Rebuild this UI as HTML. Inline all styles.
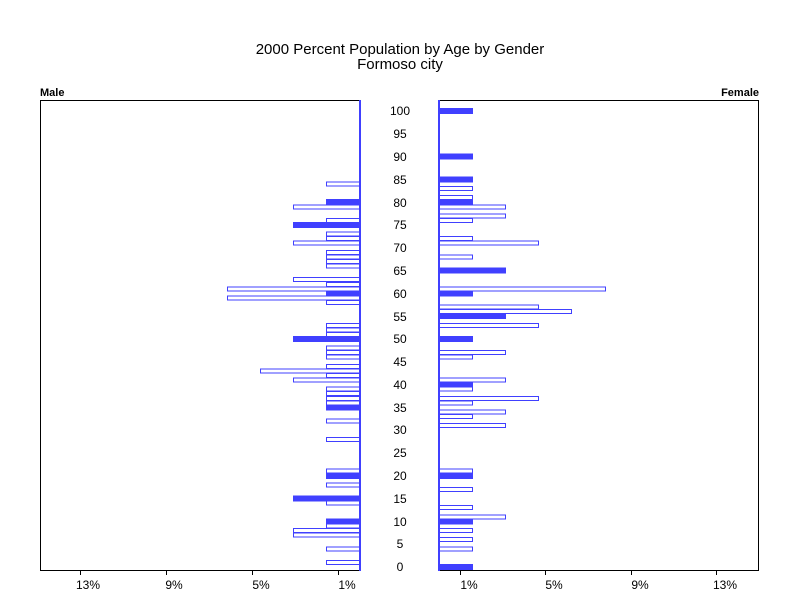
<!DOCTYPE html>
<html><head><meta charset="utf-8"><style>
body{margin:0;background:#fff}
svg{display:block}
text{font-family:"Liberation Sans",sans-serif;fill:#000}
rect,line{shape-rendering:crispEdges}
.o{fill:#fff;stroke:#4040ff;stroke-width:1}
.f{fill:#4040ff}
</style></head><body>
<svg width="800" height="600" viewBox="0 0 800 600" xmlns="http://www.w3.org/2000/svg">
<rect width="800" height="600" fill="#fff"/>
<text x="400" y="54" font-size="15" text-anchor="middle">2000 Percent Population by Age by Gender</text>
<text x="400" y="69" font-size="15" text-anchor="middle">Formoso city</text>
<text x="40" y="96" font-size="11" font-weight="bold">Male</text>
<text x="759" y="96" font-size="11" font-weight="bold" text-anchor="end">Female</text>

<rect x="40.5" y="100.5" width="319" height="470" fill="none" stroke="#000"/>
<rect x="439.5" y="100.5" width="319" height="470" fill="none" stroke="#000"/>
<line x1="360" y1="100" x2="360" y2="571" stroke="#4040ff" stroke-width="2"/>
<line x1="439" y1="100" x2="439" y2="571" stroke="#4040ff" stroke-width="2"/>

<g stroke="#000">
<line x1="80.5" y1="570" x2="80.5" y2="575"/><line x1="166.5" y1="570" x2="166.5" y2="575"/>
<line x1="252.5" y1="570" x2="252.5" y2="575"/><line x1="338.5" y1="570" x2="338.5" y2="575"/>
<line x1="460.5" y1="570" x2="460.5" y2="575"/><line x1="545.5" y1="570" x2="545.5" y2="575"/>
<line x1="631.5" y1="570" x2="631.5" y2="575"/><line x1="716.5" y1="570" x2="716.5" y2="575"/>
</g>
<g font-size="12" text-anchor="middle">
<text x="88" y="589">13%</text><text x="174" y="589">9%</text><text x="261" y="589">5%</text><text x="347" y="589">1%</text>
<text x="469" y="589">1%</text><text x="554" y="589">5%</text><text x="640" y="589">9%</text><text x="725" y="589">13%</text>
</g>
<g font-size="12" text-anchor="middle">
<text x="400" y="571">0</text><text x="400" y="548">5</text><text x="400" y="526">10</text>
<text x="400" y="503">15</text><text x="400" y="480">20</text><text x="400" y="457">25</text>
<text x="400" y="434">30</text><text x="400" y="412">35</text><text x="400" y="389">40</text>
<text x="400" y="366">45</text><text x="400" y="343">50</text><text x="400" y="321">55</text>
<text x="400" y="298">60</text><text x="400" y="275">65</text><text x="400" y="252">70</text>
<text x="400" y="229">75</text><text x="400" y="207">80</text><text x="400" y="184">85</text>
<text x="400" y="161">90</text><text x="400" y="138">95</text><text x="400" y="115">100</text>
</g>

<!-- Male -->
<g>
<rect class="o" x="326.5" y="182" width="33" height="4"/>
<rect class="f" x="326" y="199.2" width="34" height="6"/>
<rect class="o" x="293.5" y="204.8" width="66" height="4"/>
<rect class="o" x="326.5" y="218.4" width="33" height="4"/>
<rect class="f" x="293" y="222" width="67" height="6"/>
<rect class="o" x="326.5" y="232.1" width="33" height="4"/>
<rect class="o" x="326.5" y="236.7" width="33" height="4"/>
<rect class="o" x="293.5" y="241.2" width="66" height="4"/>
<rect class="o" x="326.5" y="250.4" width="33" height="4"/>
<rect class="o" x="326.5" y="254.9" width="33" height="4"/>
<rect class="o" x="326.5" y="259.5" width="33" height="4"/>
<rect class="o" x="326.5" y="264" width="33" height="4"/>
<rect class="o" x="293.5" y="277.7" width="66" height="4"/>
<rect class="o" x="326.5" y="282.3" width="33" height="4"/>
<rect class="o" x="227.5" y="286.8" width="132" height="4"/>
<rect class="f" x="326" y="290.4" width="34" height="6"/>
<rect class="o" x="227.5" y="296" width="132" height="4"/>
<rect class="o" x="326.5" y="300.5" width="33" height="4"/>
<rect class="o" x="326.5" y="323.3" width="33" height="4"/>
<rect class="o" x="326.5" y="327.9" width="33" height="4"/>
<rect class="o" x="326.5" y="332.4" width="33" height="4"/>
<rect class="f" x="293" y="336" width="67" height="6"/>
<rect class="o" x="326.5" y="346.1" width="33" height="4"/>
<rect class="o" x="326.5" y="350.7" width="33" height="4"/>
<rect class="o" x="326.5" y="355.2" width="33" height="4"/>
<rect class="o" x="326.5" y="364.4" width="33" height="4"/>
<rect class="o" x="260.5" y="368.9" width="99" height="4"/>
<rect class="o" x="326.5" y="373.5" width="33" height="4"/>
<rect class="o" x="293.5" y="378" width="66" height="4"/>
<rect class="o" x="326.5" y="387.2" width="33" height="4"/>
<rect class="o" x="326.5" y="391.7" width="33" height="4"/>
<rect class="o" x="326.5" y="396.3" width="33" height="4"/>
<rect class="o" x="326.5" y="400.8" width="33" height="4"/>
<rect class="f" x="326" y="404.4" width="34" height="6"/>
<rect class="o" x="326.5" y="419.1" width="33" height="4"/>
<rect class="o" x="326.5" y="437.3" width="33" height="4"/>
<rect class="o" x="326.5" y="469.2" width="33" height="4"/>
<rect class="f" x="326" y="472.8" width="34" height="6"/>
<rect class="o" x="326.5" y="482.9" width="33" height="4"/>
<rect class="f" x="293" y="495.6" width="67" height="6"/>
<rect class="o" x="326.5" y="501.2" width="33" height="4"/>
<rect class="f" x="326" y="518.4" width="34" height="6"/>
<rect class="o" x="326.5" y="524" width="33" height="4"/>
<rect class="o" x="293.5" y="528.5" width="66" height="4"/>
<rect class="o" x="293.5" y="533.1" width="66" height="4"/>
<rect class="o" x="326.5" y="546.8" width="33" height="4"/>
<rect class="o" x="326.5" y="560.4" width="33" height="4"/>
</g>

<!-- Female -->
<g>
<rect class="f" x="439" y="108" width="34" height="6"/>
<rect class="f" x="439" y="153.6" width="34" height="6"/>
<rect class="f" x="439" y="176.4" width="34" height="6"/>
<rect class="o" x="439.5" y="186.5" width="33" height="4"/>
<rect class="o" x="439.5" y="195.6" width="33" height="4"/>
<rect class="f" x="439" y="199.2" width="34" height="6"/>
<rect class="o" x="439.5" y="204.8" width="66" height="4"/>
<rect class="o" x="439.5" y="213.9" width="66" height="4"/>
<rect class="o" x="439.5" y="218.4" width="33" height="4"/>
<rect class="o" x="439.5" y="236.7" width="33" height="4"/>
<rect class="o" x="439.5" y="241.2" width="99" height="4"/>
<rect class="o" x="439.5" y="254.9" width="33" height="4"/>
<rect class="f" x="439" y="267.6" width="67" height="6"/>
<rect class="o" x="439.5" y="286.8" width="166" height="4"/>
<rect class="f" x="439" y="290.4" width="34" height="6"/>
<rect class="o" x="439.5" y="305.1" width="99" height="4"/>
<rect class="o" x="439.5" y="309.6" width="132" height="4"/>
<rect class="f" x="439" y="313.2" width="67" height="6"/>
<rect class="o" x="439.5" y="323.3" width="99" height="4"/>
<rect class="f" x="439" y="336" width="34" height="6"/>
<rect class="o" x="439.5" y="350.7" width="66" height="4"/>
<rect class="o" x="439.5" y="355.2" width="33" height="4"/>
<rect class="o" x="439.5" y="378" width="66" height="4"/>
<rect class="f" x="439" y="381.6" width="34" height="6"/>
<rect class="o" x="439.5" y="387.2" width="33" height="4"/>
<rect class="o" x="439.5" y="396.3" width="99" height="4"/>
<rect class="o" x="439.5" y="400.8" width="33" height="4"/>
<rect class="o" x="439.5" y="410" width="66" height="4"/>
<rect class="o" x="439.5" y="414.5" width="33" height="4"/>
<rect class="o" x="439.5" y="423.6" width="66" height="4"/>
<rect class="o" x="439.5" y="469.2" width="33" height="4"/>
<rect class="f" x="439" y="472.8" width="34" height="6"/>
<rect class="o" x="439.5" y="487.5" width="33" height="4"/>
<rect class="o" x="439.5" y="505.7" width="33" height="4"/>
<rect class="o" x="439.5" y="514.8" width="66" height="4"/>
<rect class="f" x="439" y="518.4" width="34" height="6"/>
<rect class="o" x="439.5" y="528.5" width="33" height="4"/>
<rect class="o" x="439.5" y="537.6" width="33" height="4"/>
<rect class="o" x="439.5" y="546.8" width="33" height="4"/>
<rect class="f" x="439" y="564" width="34" height="6"/>
</g>
</svg>
</body></html>
